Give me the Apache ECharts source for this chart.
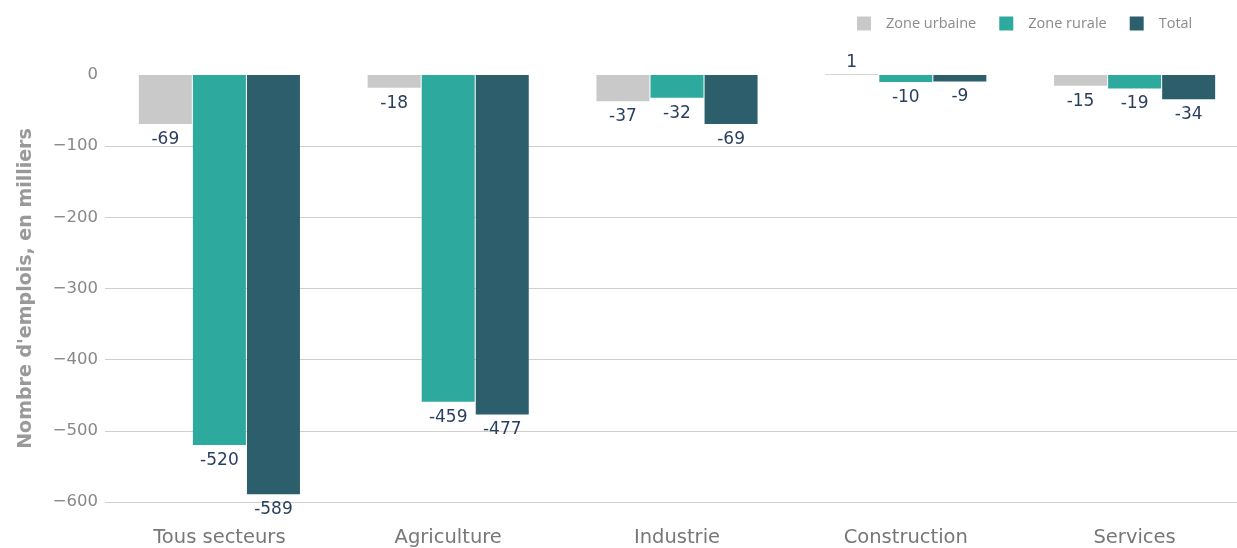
<!DOCTYPE html>
<html>
<head>
<meta charset="utf-8">
<script src="https://cdn.jsdelivr.net/npm/echarts@6/dist/echarts.min.js"></script>
<style>
  html, body { margin: 0; padding: 0; background: #fff; overflow: hidden; }
  #chart { width: 1250px; height: 548px; }
</style>
</head>
<body>
<div id="chart"></div>
<script>
    // categories and values (milliers d'emplois)
    var categories = ['Tous secteurs', 'Agriculture', 'Industrie', 'Construction', 'Services'];
    var urbaine = [-69, -18, -37, 1, -15];
    var rurale = [-520, -459, -32, -10, -19];
    var total = [-589, -477, -69, -9, -34];
    var seriesNames = ['Zone urbaine', 'Zone rurale', 'Total'];
    var colors = ['#c9c9c9', '#2ea99e', '#2c5f6b'];

    // labels under negative bars, above positive ones
    function toData(arr) {
        return arr.map(function (v) {
            return {
                value: v,
                label: v >= 0 ? {position: 'top', distance: 3} : {position: 'bottom', distance: 7}
            };
        });
    }

    function makeSeries(name, arr, color) {
        return {
            name: name,
            type: 'bar',
            barWidth: 53,
            barGap: '2%',
            clip: false,
            itemStyle: {color: color},
            label: {
                show: true,
                color: '#2a3f5f',
                fontSize: 17,
                fontFamily: 'DejaVu Sans'
            },
            data: toData(arr)
        };
    }

    var myChart = echarts.init(document.getElementById('chart'));
    var option = {
        animation: false,
        legend: {
            data: seriesNames,
            top: 11,
            left: 852,
            icon: 'rect',
            itemWidth: 14,
            itemHeight: 14,
            itemGap: 23,
            textStyle: {color: '#8a8a8a', fontSize: 14.5, fontFamily: 'Open Sans', padding: [0, 0, 0, 10]}
        },
        grid: {left: 105, top: 75, width: 1144, height: 428},
        xAxis: {
            type: 'category',
            data: categories,
            axisLine: {show: false},
            axisTick: {show: false},
            axisLabel: {color: '#777', fontSize: 19.5, fontFamily: 'DejaVu Sans', margin: 26}
        },
        yAxis: {
            type: 'value',
            min: -600,
            max: 0,
            interval: 100,
            name: "Nombre d'emplois, en milliers",
            nameLocation: 'middle',
            nameGap: 69,
            nameTextStyle: {color: '#999', fontSize: 19, fontWeight: 'bold', fontFamily: 'DejaVu Sans'},
            axisLabel: {
                color: '#888',
                fontSize: 16.5,
                fontFamily: 'DejaVu Sans',
                margin: 7,
                formatter: function (v) {
                    return v < 0 ? '\u2212' + (-v) : String(v);
                }
            },
            splitLine: {
                lineStyle: {
                    color: ['#cfcfcf', '#cfcfcf', '#cfcfcf', '#cfcfcf', '#cfcfcf', '#cfcfcf', 'rgba(0,0,0,0)'],
                    width: 1
                }
            }
        },
        series: [
            makeSeries(seriesNames[0], urbaine, colors[0]),
            makeSeries(seriesNames[1], rurale, colors[1]),
            makeSeries(seriesNames[2], total, colors[2])
        ]
    };
    myChart.setOption(option);
</script>
</body>
</html>
